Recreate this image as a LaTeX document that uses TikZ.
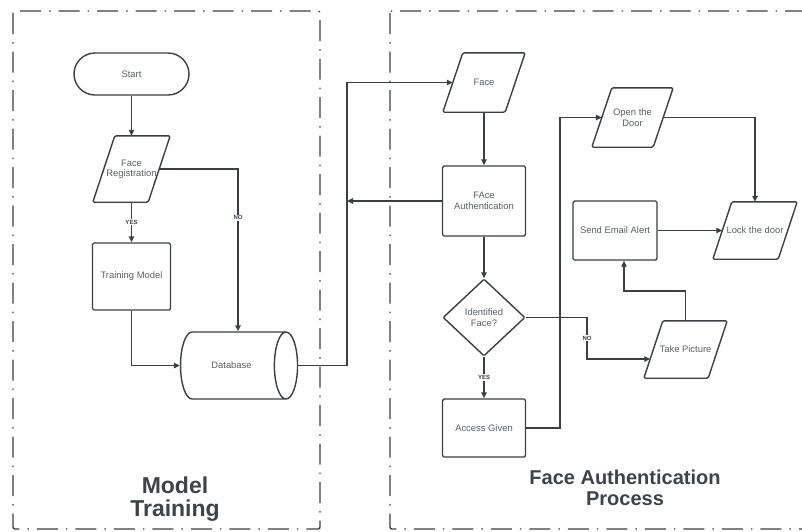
\documentclass[tikz,border=0pt]{standalone}
\usepackage{fontspec}
\setmainfont{Liberation Sans}
\usetikzlibrary{shapes.geometric,arrows.meta,calc}
\definecolor{ln}{HTML}{3A3F45}
\definecolor{tx}{HTML}{5A6066}
\definecolor{ttl}{HTML}{3D4349}
\newcommand\mypara[2]{\draw[box] ($(#1.south west)+(-#2/2,0)$) -- ($(#1.north west)+(#2/2,0)$) -- ($(#1.north east)+(#2/2,0)$) -- ($(#1.south east)+(-#2/2,0)$) -- cycle;}
\begin{document}
\begin{tikzpicture}[x=1pt,y=-1pt,
  every node/.style={text=tx, font=\fontsize{9.4}{10.5}\selectfont, align=center},
  box/.style={draw=ln, line width=1.4pt, rounded corners=1.5pt, inner sep=1pt},
  para/.style={rectangle, inner sep=0pt},
  cyl/.style={draw=ln, line width=1.4pt, cylinder, shape aspect=2.6, minimum width=67pt, minimum height=117pt, inner sep=1pt},
  dia/.style={box, diamond, minimum width=82pt, minimum height=77pt, inner sep=0pt, rounded corners=1pt},
  frame/.style={draw=ln, line width=1.4pt, dash pattern=on 21pt off 8pt on 1.5pt off 8pt, rounded corners=2pt},
  arr/.style={draw=ln, line width=1.4pt, -{Triangle[length=6pt,width=5.5pt]}},
  lab/.style={font=\bfseries\fontsize{6}{7}\selectfont, fill=white, inner sep=1pt, text=ln},
  ttlstyle/.style={text=ttl}]
\useasboundingbox (0,0) rectangle (802,531);
\clip (0,0) rectangle (802,531);
\draw[frame] (13,11) rectangle (320,529);
\draw[frame] (390,11) rectangle (814,529);

\node[box, rounded corners=21pt, minimum width=115pt, minimum height=42pt] (start) at (131.5,74) {Start};
\node[para, minimum width=55pt, minimum height=66pt] (fr) at (131.5,169) {Face\\Registration};
\node[box, minimum width=78pt, minimum height=67pt] (tm) at (131.5,276.5) {Training Model};
\node[cyl] (db) at (231.5,365.5) {Database};
\node[para, minimum width=62pt, minimum height=59pt] (face) at (484,82.5) {Face};
\node[box, minimum width=83pt, minimum height=70pt] (fa) at (484,201) {FAce\\Authentication};
\node[dia] (idf) at (484,317.5) {Identified\\Face?};
\node[box, minimum width=83pt, minimum height=58pt] (ag) at (484,428) {Access Given};
\node[para, minimum width=61pt, minimum height=59pt] (od) at (632.5,117.5) {Open the\\Door};
\node[box, minimum width=84pt, minimum height=59pt] (sea) at (615,230.5) {Send Email Alert};
\node[para, minimum width=65pt, minimum height=57pt] (lock) at (755,230.5) {Lock the door};
\node[para, minimum width=64pt, minimum height=57pt] (tp) at (685.5,349.5) {Take Picture};
\mypara{fr}{22}
\mypara{face}{20}
\mypara{od}{20}
\mypara{lock}{19}
\mypara{tp}{19}

\node[ttlstyle, font=\bfseries\fontsize{23}{23}\selectfont] (t1) at (175,499) {Model\\Training};
\node[ttlstyle, font=\bfseries\fontsize{20}{21}\selectfont] (t2) at (625,488) {Face Authentication\\Process};

\coordinate (bus) at (347,0);
\coordinate (bus2) at (560,0);
\coordinate (bus3) at (587,0);
\coordinate (tpin) at ($(tp.west)+(-3,9.5)$);

\draw[arr] (start.south) -- (fr.north);
\draw[arr] (fr.south) -- node[lab]{YES} (tm.north);
\draw[arr] (fr.east) -| node[lab, pos=0.65]{NO} ([xshift=6.5pt]db.north);
\draw[arr] (tm.south) |- (db.west);
\draw[arr] (db.east) -| (bus |- face.west) -- (face.west);
\draw[arr] (face.south) -- (fa.north);
\draw[arr] (fa.west) -- (bus |- fa.west);
\draw[arr] (fa.south) -- (idf.north);
\draw[arr] (idf.south) -- node[lab]{YES} (ag.north);
\draw[arr] (idf.east) -| node[lab, pos=0.75]{NO} (bus3 |- tpin) -- (tpin);
\draw[arr] (tp.north) -- ++(0,-30) -| ([xshift=9pt]sea.south);
\draw[arr] (ag.east) -| (bus2 |- od.west) -- (od.west);
\draw[arr] (od.east) -| (lock.north);
\draw[arr] (sea.east) -- (lock.west);
\end{tikzpicture}
\end{document}
